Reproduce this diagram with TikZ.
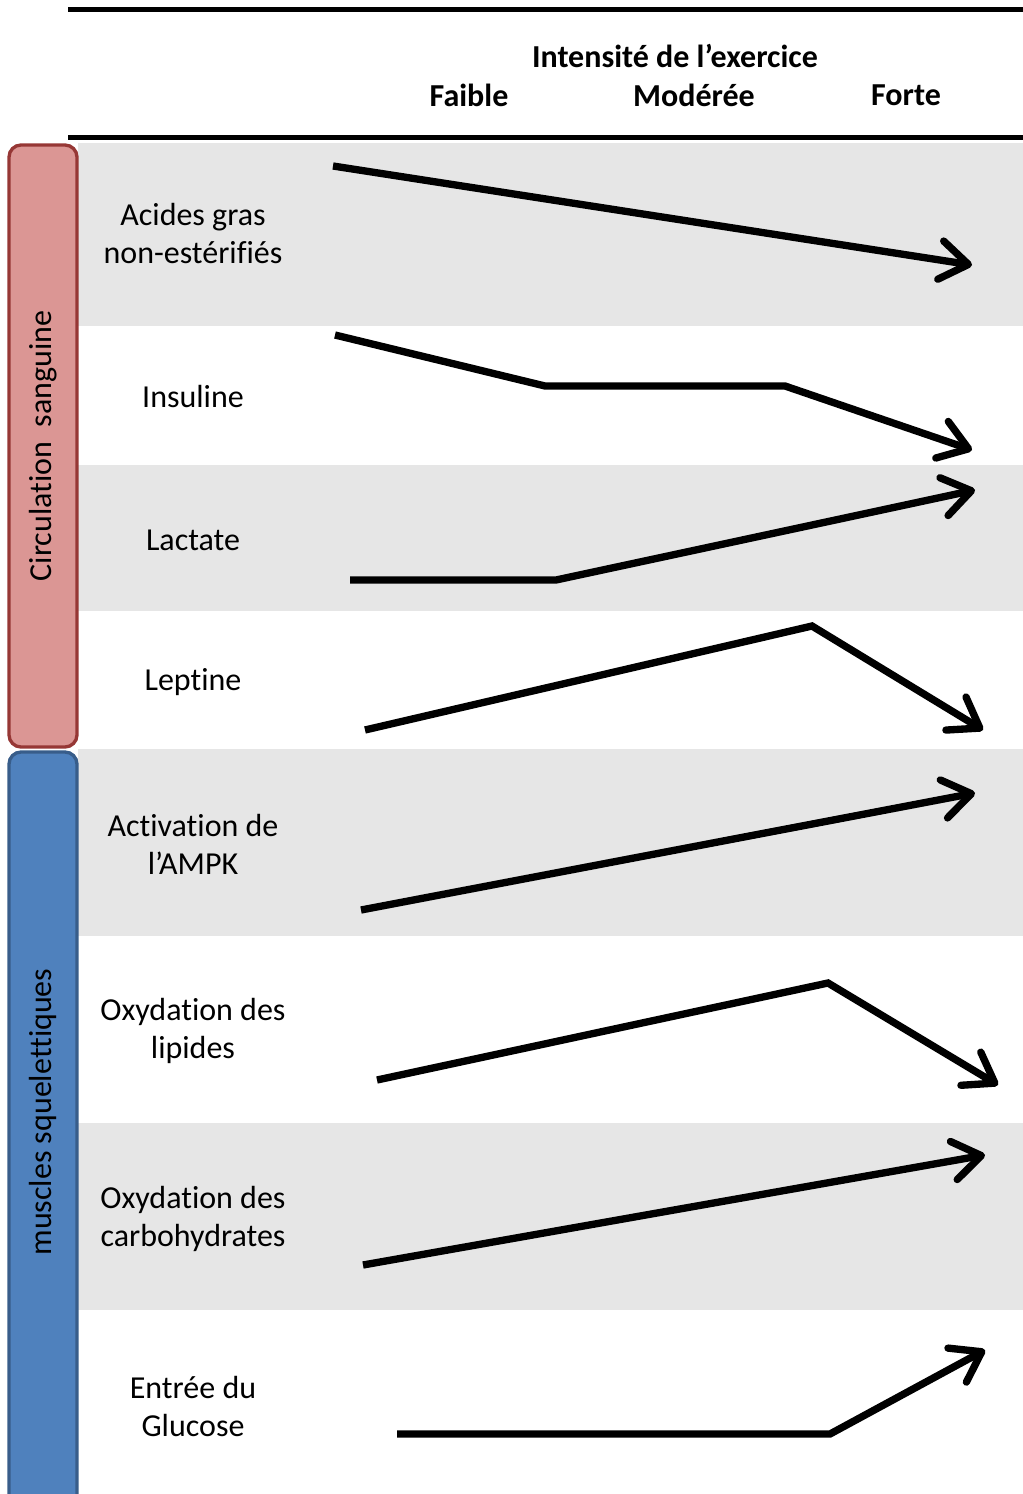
\documentclass[tikz,border=0pt]{standalone}
\usepackage{fontspec}
\setmainfont[Ligatures=NoCommon]{Carlito}
\usepackage{tikz}
\usetikzlibrary{arrows.meta,calc}

\definecolor{bandgray}{HTML}{E6E6E6}
\definecolor{sangfill}{RGB}{219,150,148}
\definecolor{sangdraw}{RGB}{150,55,53}
\definecolor{musfill}{RGB}{79,129,189}
\definecolor{musdraw}{RGB}{56,93,138}

\begin{document}
\begin{tikzpicture}[x=0.75pt,y=-0.75pt,
  lbl/.style={align=center,font=\fontsize{24}{28.5}\selectfont},
  hdr/.style={font=\fontsize{24}{28.5}\selectfont\bfseries},
  rule/.style={line width=3.75pt},
  band/.style={fill=bandgray},
  group/.style={line width=2.5pt,rounded corners=9pt},
  trend/.style={line width=5.5pt,-{Straight Barb[length=21pt,width=29pt,round]}}]
\useasboundingbox (0,0) rectangle (1023,1494);
% bandes grises
\fill[band] (78,143) rectangle (1023,326);
\fill[band] (78,465) rectangle (1023,611);
\fill[band] (78,749) rectangle (1023,936);
\fill[band] (78,1123) rectangle (1023,1310);
% en-tete
\draw[rule] (68,10) -- (1023,10);
\draw[rule] (68,138) -- (1023,138);
\node[hdr] (titre) at (675,56) {Intensité de l’exercice};
\node[hdr] (faible) at (469,95) {Faible};
\node[hdr] (moderee) at (694,95) {Modérée};
\node[hdr] (forte) at (906,95) {Forte};
% groupes
\draw[group,fill=sangfill,draw=sangdraw] (9,145) rectangle (77,747);
\node[lbl,rotate=90] (sang) at (43,446) {Circulation\ \ sanguine};
\draw[group,fill=musfill,draw=musdraw] (9,752) rectangle (77,1520);
\node[lbl,rotate=90] (musc) at (43,1112) {muscles squelettiques};
% variables
\node[lbl] (agne) at (193,234) {Acides gras\\non-estérifiés};
\node[lbl] (ins) at (193,397) {Insuline};
\node[lbl] (lac) at (193,540) {Lactate};
\node[lbl] (lep) at (193,682) {Leptine};
\node[lbl] (ampk) at (193,844) {Activation de\\l’AMPK};
\node[lbl] (lip) at (193,1031) {Oxydation des\\lipides};
\node[lbl] (cho) at (193,1219) {Oxydation des\\carbohydrates};
\node[lbl] (glu) at (193,1406) {Entrée du\\Glucose};
% tendances
\coordinate (agne-a) at (333,166); \coordinate (agne-b) at (972,265);
\draw[trend] (agne-a) -- (agne-b);
\coordinate (ins-a) at (335,335); \coordinate (ins-b) at (972,450);
\draw[trend] (ins-a) -- (545,386) -- (785,386) -- (ins-b);
\coordinate (lac-a) at (350,580); \coordinate (lac-b) at (975,490);
\draw[trend] (lac-a) -- (556,580) -- (lac-b);
\coordinate (lep-a) at (365,730); \coordinate (lep-b) at (983,730);
\draw[trend] (lep-a) -- (812,626) -- (lep-b);
\coordinate (ampk-a) at (361,910); \coordinate (ampk-b) at (975,793);
\draw[trend] (ampk-a) -- (ampk-b);
\coordinate (lip-a) at (377,1080); \coordinate (lip-b) at (998,1085);
\draw[trend] (lip-a) -- (828,983) -- (lip-b);
\coordinate (cho-a) at (363,1265); \coordinate (cho-b) at (985,1155);
\draw[trend] (cho-a) -- (cho-b);
\coordinate (glu-a) at (397,1434); \coordinate (glu-b) at (985,1350);
\draw[trend] (glu-a) -- (830,1434) -- (glu-b);
\end{tikzpicture}
\end{document}
